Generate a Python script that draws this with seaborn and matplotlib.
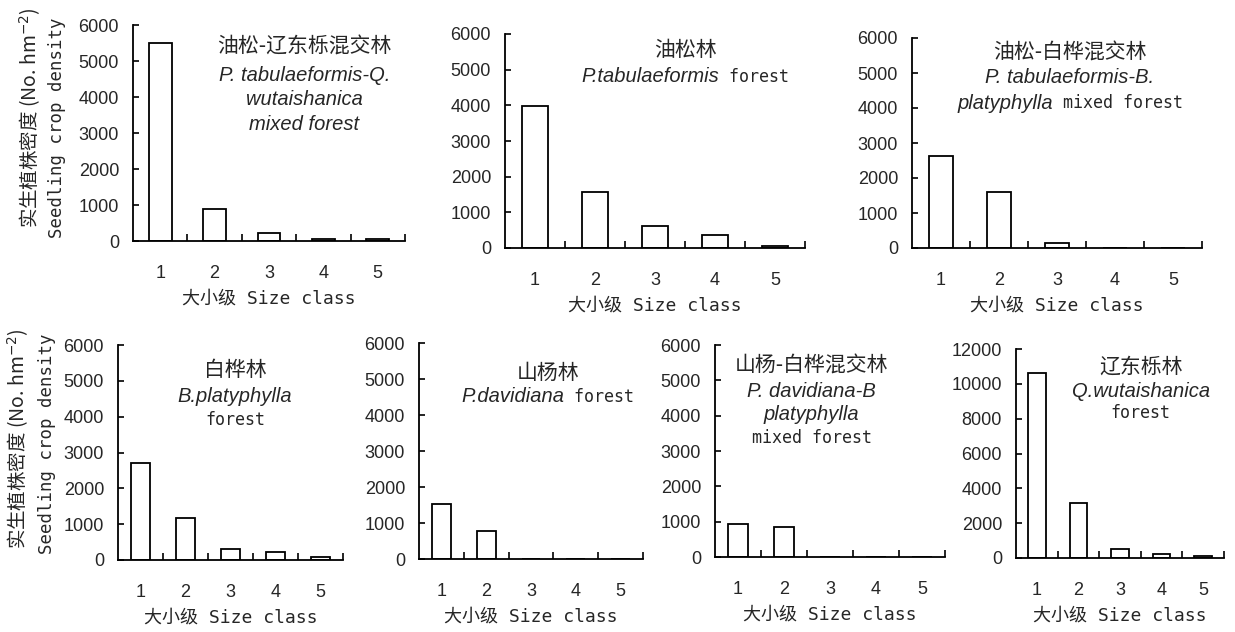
import matplotlib
matplotlib.use('Agg')
import matplotlib.pyplot as plt
from matplotlib.ticker import FixedLocator, MultipleLocator
import seaborn as sns

# Size classes and seedling density (No. hm-2) per forest type
classes = ['1', '2', '3', '4', '5']
pq_mixed = [5500, 880, 220, 56, 60]
pt_forest = [3990, 1580, 615, 365, 64]
pb_mixed = [2630, 1610, 145, 12, 8]
bp_forest = [2720, 1165, 307, 214, 93]
pd_forest = [1520, 770, 12, 0, 10]
pdb_mixed = [940, 845, 5, 12, 10]
qw_forest = [10600, 3170, 540, 210, 110]

# Panel titles: each line is a list of (text, font kind)
titles = [
    [[('油松-辽东栎混交林', 'cn')], [('P. tabulaeformis-Q.', 'it')],
     [('wutaishanica', 'it')], [('mixed forest', 'it')]],
    [[('油松林', 'cn')], [('P.tabulaeformis', 'it'), (' forest', 'mono')]],
    [[('油松-白桦混交林', 'cn')], [('P. tabulaeformis-B.', 'it')],
     [('platyphylla', 'it'), (' mixed forest', 'mono')]],
    [[('白桦林', 'cn')], [('B.platyphylla', 'it')], [('forest', 'mono')]],
    [[('山杨林', 'cn')], [('P.davidiana', 'it'), (' forest', 'mono')]],
    [[('山杨-白桦混交林', 'cn')], [('P. davidiana-B', 'it')],
     [('platyphylla', 'it')], [('mixed forest', 'mono')]],
    [[('辽东栎林', 'cn')], [('Q.wutaishanica', 'it')], [('forest', 'mono')]],
]
# title line positions (axes fraction): x centre, list of y centres
title_pos = [
    (0.63, [0.90, 0.765, 0.655, 0.54]),
    (0.60, [0.925, 0.80]),
    (0.545, [0.93, 0.81, 0.69]),
    (0.52, [0.885, 0.76, 0.65]),
    (0.575, [0.86, 0.75]),
    (0.42, [0.905, 0.78, 0.67, 0.56]),
    (0.60, [0.915, 0.795, 0.695]),
]

panels = [pq_mixed, pt_forest, pb_mixed, bp_forest, pd_forest, pdb_mixed, qw_forest]
ymax = [6000, 6000, 6000, 6000, 6000, 6000, 12000]
ystep = [1000, 1000, 1000, 1000, 1000, 1000, 2000]

# axes boxes in pixels: left, right, top, bottom
W, H = 1235, 632
boxes = [
    (133, 405, 25, 241),
    (505, 805, 34, 248),
    (912, 1202, 38, 248),
    (118, 343, 345, 560),
    (419, 643, 343, 559),
    (715, 945, 345, 557),
    (1016, 1224, 349, 558),
]

sns.set_style('ticks')
plt.rcParams['font.family'] = ['Liberation Sans', 'Noto Sans CJK SC']

FONTS = {
    'cn': dict(family=['Noto Sans CJK SC'], fontsize=15),
    'it': dict(family=['Liberation Sans'], style='italic', fontsize=14.5),
    'mono': dict(family=['DejaVu Sans Mono'], fontsize=12),
}

fig = plt.figure(figsize=(W / 100, H / 100), dpi=100)
renderer = fig.canvas.get_renderer()


def put_line(ax, fx, fy, segs):
    arts = [ax.text(0, fy, txt, transform=ax.transAxes, ha='left', va='center', **FONTS[k])
            for txt, k in segs]
    widths = [a.get_window_extent(renderer).width for a in arts]
    ax_w = ax.get_window_extent(renderer).width
    x = fx - sum(widths) / 2 / ax_w
    for a, w in zip(arts, widths):
        a.set_x(x)
        x += w / ax_w


for i, vals in enumerate(panels):
    l, r, t, b = boxes[i]
    ax = fig.add_axes([l / W, (H - b) / H, (r - l) / W, (b - t) / H])
    sns.barplot(x=classes, y=vals, ax=ax, width=0.42, color='white', saturation=1,
                edgecolor='black', linewidth=1.3)
    ax.set_xlim(-0.5, 4.5)
    ax.set_ylim(0, ymax[i])
    ax.yaxis.set_major_locator(MultipleLocator(ystep[i]))
    ax.xaxis.set_minor_locator(FixedLocator([0.5, 1.5, 2.5, 3.5, 4.5]))
    sns.despine(ax=ax)
    for s in ['left', 'bottom']:
        ax.spines[s].set_linewidth(1.3)
        ax.spines[s].set_color('black')
    ax.tick_params(axis='x', which='major', length=0, pad=17, labelsize=13)
    ax.tick_params(axis='x', which='minor', direction='in', length=5, width=1.2, color='black')
    ax.tick_params(axis='y', which='major', direction='in', length=4, width=1.2,
                   color='black', labelsize=13, pad=10)
    ax.set_xlabel('大小级 Size class', family=['DejaVu Sans Mono', 'Noto Sans CJK SC'],
                  fontsize=13, labelpad=6)
    ax.set_ylabel('')
    fx, ys = title_pos[i]
    for segs, fy in zip(titles[i], ys):
        put_line(ax, fx, fy, segs)

# y axis titles (two lines) for the first panel in each row
for (x1, y1, x2, y2) in [(30, 118, 57, 128), (18, 439, 47, 444)]:
    fig.text(x1 / W, 1 - y1 / H, '实生植株密度 (No. hm$^{\\mathrm{-2}}$)', rotation=90,
             ha='center', va='center', family=['Noto Sans CJK SC'], fontsize=14)
    fig.text(x2 / W, 1 - y2 / H, 'Seedling crop density', rotation=90,
             ha='center', va='center', family=['DejaVu Sans Mono'], fontsize=12.5)

fig.savefig('out.png', dpi=100)
